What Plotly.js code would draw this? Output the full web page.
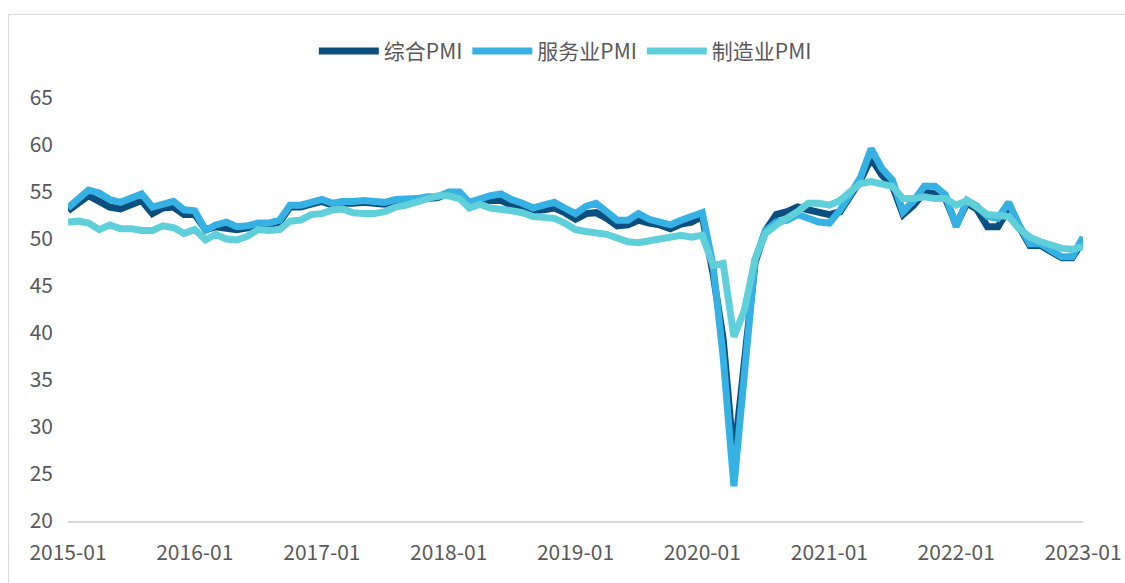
<!DOCTYPE html>
<html>
<head>
<meta charset="utf-8">
<script src="https://cdn.plot.ly/plotly-3.0.1.min.js"></script>
<style>
  html, body { margin: 0; padding: 0; background: #ffffff; }
  #chart { position: absolute; left: 0; top: 0; width: 1125px; height: 583px; }
  #frame { position: absolute; left: 8px; top: 14px; width: 1130px; height: 580px;
           border: 1px solid #d9d9d9; pointer-events: none; box-sizing: border-box; }
</style>
</head>
<body>
<div id="chart"></div>
<div id="frame"></div>
<script>
// Monthly dates 2015-01 .. 2023-01
const months = [];
for (let y = 2015; y <= 2023; y++) {
  for (let m = 1; m <= 12; m++) {
    if (y === 2023 && m > 1) break;
    months.push(y + '-' + String(m).padStart(2, '0') + '-01');
  }
}

const seriesNames = ['综合PMI', '服务业PMI', '制造业PMI'];

const compositePMI = [
  53.0, 53.9, 54.6, 54.0, 53.4, 53.2, 53.6, 54.1, 52.7, 53.3, 53.4, 52.6,
  52.6, 51.0, 51.3, 51.1, 51.0, 51.2, 51.5, 51.5, 51.8, 53.4, 53.4, 53.7,
  54.0, 53.6, 53.8, 53.8, 53.9, 53.8, 53.7, 54.0, 54.0, 54.1, 54.3, 54.4,
  54.9, 54.8, 53.8, 54.0, 54.1, 54.1, 53.6, 53.4, 53.0, 53.1, 53.3, 52.8,
  52.1, 52.7, 52.8, 52.2, 51.4, 51.5, 52.0, 51.7, 51.5, 51.1, 51.6, 51.8,
  52.4, 46.3, 39.4, 26.5, 36.3, 47.5, 50.9, 52.6, 52.9, 53.4, 53.1, 52.8,
  52.6, 52.9, 54.5, 56.3, 58.6, 56.8, 55.7, 52.6, 53.6, 55.0, 54.8, 54.3,
  51.5, 53.8, 53.2, 51.3, 51.3, 53.2, 51.3, 49.3, 49.3, 48.7, 48.0, 48.0,
  49.8
];

const servicesPMI = [
  53.3, 54.3, 55.2, 54.9, 54.2, 53.9, 54.4, 54.8, 53.4, 53.7, 54.0, 53.1,
  53.0, 50.9, 51.5, 51.8, 51.3, 51.4, 51.7, 51.7, 52.0, 53.6, 53.6, 53.9,
  54.2, 53.8, 54.0, 54.0, 54.1, 54.0, 53.9, 54.2, 54.2, 54.3, 54.5, 54.5,
  55.0, 55.0, 53.9, 54.3, 54.6, 54.8, 54.2, 53.8, 53.3, 53.6, 53.9, 53.3,
  52.7, 53.5, 53.8, 52.9, 52.0, 52.0, 52.7, 52.1, 51.8, 51.5, 52.0, 52.4,
  52.8, 47.2, 37.5, 23.7, 34.8, 47.8, 50.9, 51.8, 52.0, 52.6, 52.2, 51.8,
  51.7, 53.1, 54.7, 56.6, 59.6, 57.5, 56.3, 52.9, 54.1, 55.6, 55.6, 54.7,
  51.3, 54.1, 53.5, 52.4, 52.2, 53.9, 51.5, 49.5, 49.5, 48.8, 48.1, 48.1,
  50.2
];

const manufacturingPMI = [
  51.8, 51.9, 51.7, 51.0, 51.5, 51.1, 51.1, 50.9, 50.9, 51.4, 51.2, 50.6,
  51.0, 49.9, 50.5, 50.0, 49.9, 50.3, 51.0, 50.9, 51.0, 51.9, 52.0, 52.6,
  52.7, 53.1, 53.2, 52.8, 52.7, 52.7, 52.9, 53.4, 53.6, 53.9, 54.3, 54.6,
  54.6, 54.3, 53.3, 53.7, 53.3, 53.2, 53.0, 52.8, 52.4, 52.3, 52.2, 51.7,
  51.0, 50.8, 50.7, 50.5, 50.1, 49.7, 49.6, 49.8, 50.1, 50.2, 50.4, 50.2,
  50.4, 47.2, 47.4, 39.6, 42.4, 47.9, 50.6, 51.5, 52.2, 52.9, 53.8, 53.8,
  53.6, 54.1, 55.0, 55.9, 56.1, 55.8, 55.6, 54.3, 54.3, 54.5, 54.3, 54.3,
  53.6, 54.1, 53.4, 52.6, 52.5, 52.4, 51.1, 50.2, 49.7, 49.4, 49.0, 48.9,
  49.2
];

const colors = ['#0b4f7f', '#36b1e3', '#5fcfd9'];
const values = [compositePMI, servicesPMI, manufacturingPMI];

const traces = values.map((v, k) => ({
  x: months,
  y: v,
  name: seriesNames[k],
  type: 'scatter',
  mode: 'lines',
  line: { color: colors[k], width: 7, shape: 'linear' },
  hoverinfo: 'x+y+name'
}));

const fontFam = '"Noto Sans CJK SC", "Noto Sans", sans-serif';

const layout = {
  width: 1125,
  height: 583,
  margin: { l: 68, r: 42, t: 98, b: 62 },
  paper_bgcolor: 'rgba(0,0,0,0)',
  plot_bgcolor: 'rgba(0,0,0,0)',
  font: { family: fontFam, color: '#595959', size: 21 },
  showlegend: true,
  legend: {
    orientation: 'h',
    x: 0.49, xanchor: 'center',
    y: 1.11, yanchor: 'middle',
    font: { family: fontFam, size: 21, color: '#595959' },
    itemwidth: 60,
    tracegroupgap: 0
  },
  xaxis: {
    type: 'date',
    range: ['2015-01-01', '2023-01-01'],
    tick0: '2015-01-01',
    dtick: 'M12',
    tickformat: '%Y-%m',
    showgrid: false,
    zeroline: false,
    showline: true,
    linecolor: '#d9d9d9',
    linewidth: 1.5,
    ticks: '',
    ticklabelstandoff: 12,
    tickfont: { family: fontFam, size: 21, color: '#595959' }
  },
  yaxis: {
    range: [20, 65],
    dtick: 5,
    tick0: 20,
    showgrid: false,
    zeroline: false,
    showline: false,
    ticks: '',
    ticklabelstandoff: 14,
    tickfont: { family: fontFam, size: 21, color: '#595959' }
  }
};

Plotly.newPlot('chart', traces, layout, { displayModeBar: false, staticPlot: true });
</script>
</body>
</html>
